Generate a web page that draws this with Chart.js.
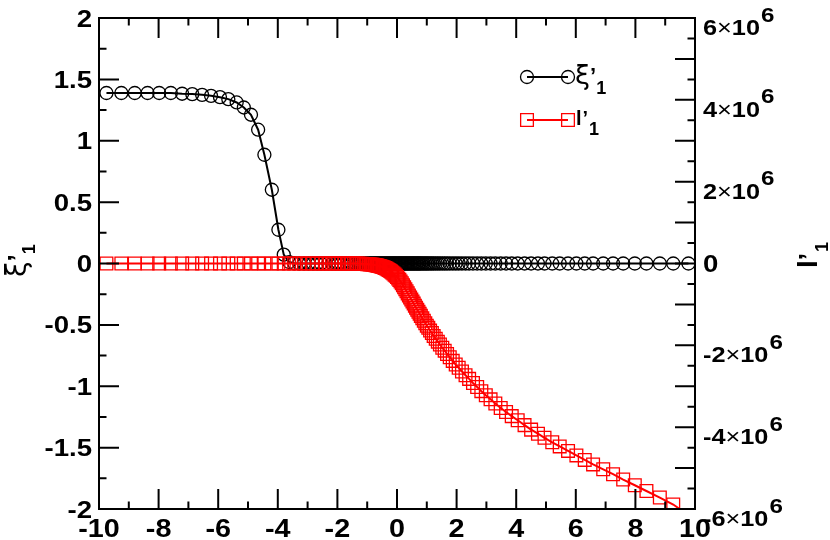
<!DOCTYPE html>
<html>
<head>
<meta charset="utf-8">
<script src="https://cdn.jsdelivr.net/npm/chart.js@4.4.1/dist/chart.umd.min.js"></script>
<style>
  html, body { margin: 0; padding: 0; background: #fff; }
  #wrap { width: 830px; height: 540px; }
</style>
</head>
<body>
<div id="wrap"><canvas id="c" width="830" height="540"></canvas></div>
<script>
// ---- data ----
const xValues = [
  -9.75, -9.25, -8.8, -8.37, -7.98, -7.59, -7.21, -6.87, -6.54, -6.24,
  -5.94, -5.66, -5.38, -5.14, -4.9, -4.66, -4.45, -4.2, -3.98, -3.8,
  -3.62, -3.45, -3.28, -3.12, -2.97, -2.82, -2.68, -2.55, -2.42, -2.30,
  -2.18, -2.07, -1.97, -1.87, -1.77, -1.68, -1.60, -1.52, -1.44, -1.37,
  -1.30, -1.23, -1.17, -1.11, -1.05, -1.0, -0.95, -0.9, -0.85, -0.8,
  -0.76, -0.72, -0.68, -0.64, -0.6, -0.56, -0.52, -0.48, -0.44, -0.4,
  -0.36, -0.32, -0.28, -0.24, -0.2, -0.16, -0.12, -0.08, -0.04, 0,
  0.04, 0.08, 0.12, 0.16, 0.2, 0.24, 0.28, 0.32, 0.36, 0.4,
  0.44, 0.48, 0.52, 0.56, 0.6, 0.64, 0.68, 0.72, 0.76, 0.8,
  0.85, 0.9, 0.95, 1.0, 1.05, 1.11, 1.17, 1.23, 1.30, 1.37,
  1.44, 1.52, 1.60, 1.68, 1.77, 1.87, 1.97, 2.07, 2.18, 2.30,
  2.42, 2.55, 2.69, 2.83, 2.98, 3.14, 3.30, 3.48,
  3.66, 3.85, 4.05, 4.28, 4.50, 4.73, 4.95, 5.21, 5.46, 5.74,
  6.02, 6.30, 6.58, 6.92, 7.25, 7.59, 7.98, 8.37, 8.82, 9.27, 9.78
];
const xiPrimeValues = [
  1.389, 1.389, 1.389, 1.389, 1.389, 1.389, 1.383, 1.380, 1.374, 1.366,
  1.355, 1.339, 1.312, 1.271, 1.212, 1.090, 0.886, 0.601, 0.275, 0.072,
  0.012, 0.002, 0, 0, 0, 0, 0, 0, 0, 0,
  0, 0, 0, 0, 0, 0, 0, 0, 0, 0,
  0, 0, 0, 0, 0, 0, 0, 0, 0, 0,
  0, 0, 0, 0, 0, 0, 0, 0, 0, 0,
  0, 0, 0, 0, 0, 0, 0, 0, 0, 0,
  0, 0, 0, 0, 0, 0, 0, 0, 0, 0,
  0, 0, 0, 0, 0, 0, 0, 0, 0, 0,
  0, 0, 0, 0, 0, 0, 0, 0, 0, 0,
  0, 0, 0, 0, 0, 0, 0, 0, 0, 0,
  0, 0, 0, 0, 0, 0, 0, 0,
  0, 0, 0, 0, 0, 0, 0, 0, 0, 0,
  0, 0, 0, 0, 0, 0, 0, 0, 0, 0, 0
];
const lPrimeValues = [
  0, 0, 0, 0, 0, 0, 0, 0, 0, 0,
  0, 0, 0, 0, 0, 0, 0, 0, 0, 0,
  0, 0, 0, 0, 0, 0, 0, 0, 0, 0,
  0, 0, 0, 0, 0, 0, 0, 0, 0, 0,
  0, -0.005e6, -0.007e6, -0.010e6, -0.012e6, -0.015e6, -0.018e6, -0.022e6, -0.026e6, -0.030e6,
  -0.035e6, -0.040e6, -0.046e6, -0.053e6, -0.060e6, -0.068e6, -0.077e6, -0.087e6, -0.098e6, -0.110e6,
  -0.124e6, -0.140e6, -0.157e6, -0.176e6, -0.197e6, -0.220e6, -0.245e6, -0.272e6, -0.300e6, -0.330e6,
  -0.365e6, -0.40e6, -0.44e6, -0.48e6, -0.53e6, -0.58e6, -0.63e6, -0.68e6, -0.73e6, -0.78e6,
  -0.83e6, -0.88e6, -0.93e6, -0.98e6, -1.03e6, -1.08e6, -1.13e6, -1.18e6, -1.23e6, -1.28e6,
  -1.34e6, -1.40e6, -1.46e6, -1.52e6, -1.57e6, -1.64e6, -1.70e6, -1.77e6, -1.84e6, -1.91e6,
  -1.98e6, -2.06e6, -2.13e6, -2.21e6, -2.29e6, -2.38e6, -2.47e6, -2.55e6, -2.64e6, -2.73e6,
  -2.82e6, -2.92e6, -3.02e6, -3.12e6, -3.22e6, -3.32e6, -3.42e6, -3.53e6,
  -3.63e6, -3.73e6, -3.83e6, -3.95e6, -4.06e6, -4.16e6, -4.26e6, -4.37e6, -4.47e6, -4.58e6,
  -4.69e6, -4.80e6, -4.91e6, -5.03e6, -5.15e6, -5.28e6, -5.42e6, -5.56e6, -5.72e6, -5.89e6, -6.15e6
];
const xTickRange = [-10, 10];
const leftTickRange = [-2, 2];
const rightTickRange = [-6e6, 6e6];
const seriesNames = ['ξ', 'l'];

// ---- build ----
const FONT = "'Liberation Sans', Arial, Helvetica, sans-serif";
const GREEK = "'DejaVu Sans', 'Liberation Sans', sans-serif";
const SX = 1.15; // horizontal glyph stretch seen in the reference lettering
const ptsXi = xValues.map((x, i) => ({ x: x, y: xiPrimeValues[i] }));
const ptsL = xValues.map((x, i) => ({ x: x, y: lPrimeValues[i] }));

function fmt(v) { return String(Number(v.toFixed(3))); }

// draw text with horizontal stretch; align: 'left' | 'center' | 'right'
function sText(ctx, text, font, x, y, align) {
  ctx.font = font;
  const w = ctx.measureText(text).width * SX;
  let x0 = x;
  if (align === 'center') x0 = x - w / 2;
  else if (align === 'right') x0 = x - w;
  ctx.save();
  ctx.translate(x0, y);
  ctx.scale(SX, 1);
  ctx.textAlign = 'left';
  ctx.fillText(text, 0, 0);
  ctx.restore();
  return x0 + w;
}

function drawRich(ctx, parts, x, y, stretch) {
  let cx = x;
  for (const p of parts) {
    ctx.font = p.font;
    const w = ctx.measureText(p.text).width * (stretch ? SX : 1);
    ctx.save();
    ctx.translate(cx, y + (p.dy || 0));
    if (stretch) ctx.scale(SX, 1);
    ctx.fillText(p.text, 0, 0);
    ctx.restore();
    cx += w + (p.gap || 0);
  }
  return cx;
}

const frame = {
  id: 'frame',
  afterDraw(chart) {
    const ctx = chart.ctx;
    const { left, right, top, bottom } = chart.chartArea;
    const sx = chart.scales.x, sy = chart.scales.y, sr = chart.scales.y2;
    const MAJ = 20, MIN = 7.5;
    ctx.save();
    ctx.strokeStyle = '#000';
    ctx.fillStyle = '#000';
    ctx.lineWidth = 2;
    ctx.lineCap = 'butt';
    ctx.strokeRect(left, top, right - left, bottom - top);
    ctx.beginPath();
    // x ticks (bottom + mirrored top)
    const xt = sx.ticks.map(t => t.value);
    xt.forEach((v, i) => {
      const p = sx.getPixelForValue(v);
      ctx.moveTo(p, bottom); ctx.lineTo(p, bottom - MAJ);
      ctx.moveTo(p, top); ctx.lineTo(p, top + MAJ);
      if (i < xt.length - 1) {
        const m = sx.getPixelForValue((v + xt[i + 1]) / 2);
        ctx.moveTo(m, bottom); ctx.lineTo(m, bottom - MIN);
        ctx.moveTo(m, top); ctx.lineTo(m, top + MIN);
      }
    });
    // left ticks
    const yt = sy.ticks.map(t => t.value);
    yt.forEach((v, i) => {
      const p = sy.getPixelForValue(v);
      ctx.moveTo(left, p); ctx.lineTo(left + MAJ, p);
      if (i < yt.length - 1) {
        const m = sy.getPixelForValue((v + yt[i + 1]) / 2);
        ctx.moveTo(left, m); ctx.lineTo(left + MIN, m);
      }
    });
    // right ticks
    const rt = sr.ticks.map(t => t.value);
    rt.forEach((v, i) => {
      const p = sr.getPixelForValue(v);
      ctx.moveTo(right, p); ctx.lineTo(right - MAJ, p);
      if (i < rt.length - 1) {
        const m = sr.getPixelForValue((v + rt[i + 1]) / 2);
        ctx.moveTo(right, m); ctx.lineTo(right - MIN, m);
      }
    });
    ctx.stroke();

    ctx.textBaseline = 'alphabetic';
    // x tick labels
    xt.forEach(v => {
      sText(ctx, fmt(v), 'bold 25px ' + FONT, sx.getPixelForValue(v), bottom + 27.5, 'center');
    });
    // left tick labels
    yt.forEach(v => {
      sText(ctx, fmt(v), 'bold 24px ' + FONT, left - 7, sy.getPixelForValue(v) + 8.5, 'right');
    });
    // right tick labels (every second major tick)
    rt.forEach(v => {
      if (Math.round(v / 1e6) % 2 !== 0) return;
      const p = sr.getPixelForValue(v);
      const lx = right + 8;
      if (v === 0) {
        sText(ctx, '0', 'bold 24px ' + FONT, lx, p + 8.5, 'left');
        return;
      }
      const mant = String(Math.round(v / 1e6));
      const exp = String(Math.round(Math.log10(1e6)));
      const cx = drawRich(ctx, [
        { text: mant, font: 'bold 22px ' + FONT },
        { text: '×', font: '22px ' + FONT },
        { text: '10', font: 'bold 22px ' + FONT }
      ], lx, p + 17, true);
      sText(ctx, exp, 'bold 21px ' + FONT, cx + 1, p + 3.5, 'left');
    });

    // left axis title (rotated)
    ctx.save();
    ctx.translate(26, 277);
    ctx.rotate(-Math.PI / 2);
    drawRich(ctx, [
      { text: seriesNames[0], font: '28px ' + GREEK },
      { text: '’', font: 'bold 26px ' + FONT },
      { text: '1', font: 'bold 18px ' + FONT, dy: 9 }
    ], 0, 0, false);
    ctx.restore();

    // right axis title (rotated)
    ctx.save();
    ctx.translate(817, 268);
    ctx.rotate(-Math.PI / 2);
    drawRich(ctx, [
      { text: seriesNames[1], font: 'bold 28px ' + FONT },
      { text: '’', font: 'bold 26px ' + FONT, gap: 1 },
      { text: '1', font: 'bold 18px ' + FONT, dy: 11 }
    ], 0, 0, false);
    ctx.restore();

    // legend
    const ds = chart.data.datasets;
    const rows = [
      { y: 77, ds: ds[1], name: seriesNames[0] },
      { y: 120, ds: ds[0], name: seriesNames[1] }
    ];
    rows.forEach((r, k) => {
      const x1 = 527, x2 = 568;
      ctx.strokeStyle = r.ds.borderColor;
      ctx.lineWidth = 2;
      ctx.beginPath(); ctx.moveTo(x1, r.y); ctx.lineTo(x2, r.y); ctx.stroke();
      [x1, x2].forEach(px => {
        ctx.fillStyle = 'rgba(0,0,0,0)';
        ctx.strokeStyle = r.ds.pointBorderColor;
        ctx.lineWidth = r.ds.pointBorderWidth;
        Chart.helpers.drawPoint(ctx, {
          pointStyle: r.ds.pointStyle, radius: r.ds.pointRadius,
          borderWidth: r.ds.pointBorderWidth, rotation: 0
        }, px, r.y);
      });
      ctx.fillStyle = '#000';
      if (k === 0) {
        drawRich(ctx, [
          { text: r.name, font: '27px ' + GREEK },
          { text: '’', font: 'bold 22px ' + FONT, dy: -1 },
          { text: '1', font: 'bold 18px ' + FONT, dy: 10 }
        ], 575, 84, false);
      } else {
        drawRich(ctx, [
          { text: r.name, font: 'bold 20px ' + FONT, gap: 1 },
          { text: '’', font: 'bold 20px ' + FONT, gap: 1 },
          { text: '1', font: 'bold 18px ' + FONT, dy: 10 }
        ], 576, 125, false);
      }
    });
    ctx.restore();
  }
};

new Chart(document.getElementById('c'), {
  type: 'scatter',
  data: {
    datasets: [
      {
        label: "l'1", data: ptsL, yAxisID: 'y2', showLine: true,
        borderColor: '#ff0000', borderWidth: 2,
        pointStyle: 'rect', pointRadius: 9, pointBorderWidth: 1.3,
        pointBorderColor: '#ff0000', pointBackgroundColor: 'rgba(0,0,0,0)',
        pointHoverRadius: 9, clip: 0, order: 0
      },
      {
        label: "ξ'1", data: ptsXi, yAxisID: 'y', showLine: true,
        borderColor: '#000000', borderWidth: 2,
        pointStyle: 'circle', pointRadius: 6.5, pointBorderWidth: 1.3,
        pointBorderColor: '#000000', pointBackgroundColor: 'rgba(0,0,0,0)',
        pointHoverRadius: 6.5, clip: 0, order: 1
      }
    ]
  },
  options: {
    responsive: false,
    animation: false,
    devicePixelRatio: 1,
    layout: { padding: { top: 18, left: 0, right: 0, bottom: 0 } },
    plugins: { legend: { display: false }, tooltip: { enabled: false } },
    scales: {
      x: {
        type: 'linear', position: 'bottom',
        min: xTickRange[0], max: xTickRange[1],
        grid: { display: false, drawTicks: false },
        border: { display: false },
        ticks: { stepSize: 2, display: false },
        afterFit(s) { s.height = 31; }
      },
      y: {
        type: 'linear', position: 'left',
        min: leftTickRange[0], max: leftTickRange[1],
        grid: { display: false, drawTicks: false },
        border: { display: false },
        ticks: { stepSize: 0.5, display: false },
        afterFit(s) { s.width = 99; }
      },
      y2: {
        type: 'linear', position: 'right',
        min: rightTickRange[0], max: rightTickRange[1],
        grid: { display: false, drawTicks: false },
        border: { display: false },
        ticks: { stepSize: 1e6, display: false },
        afterFit(s) { s.width = 135; }
      }
    }
  },
  plugins: [frame]
});
</script>
</body>
</html>
